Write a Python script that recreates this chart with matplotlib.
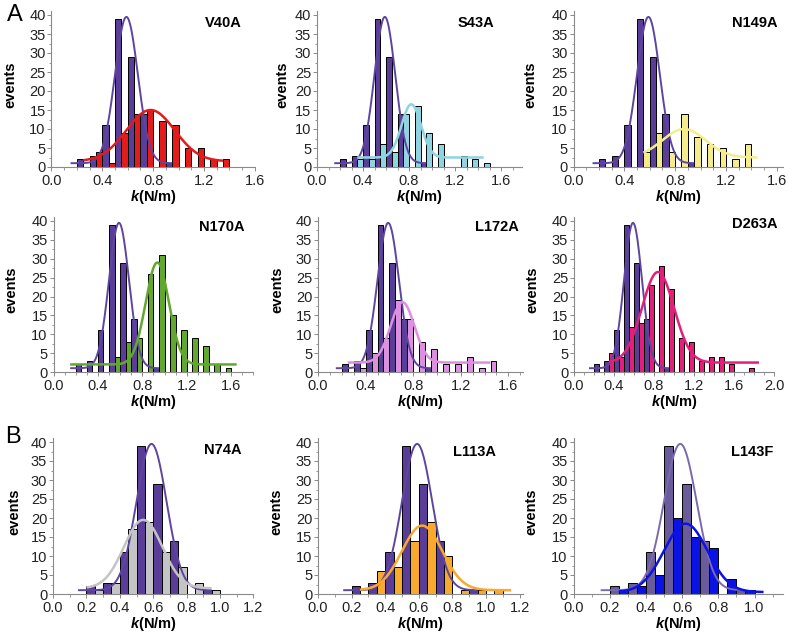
import numpy as np
import matplotlib
matplotlib.use('Agg')
import matplotlib.pyplot as plt
from matplotlib.ticker import MultipleLocator

plt.rcParams['font.family'] = ['Liberation Sans', 'DejaVu Sans']
plt.rcParams['mathtext.fontset'] = 'custom'
plt.rcParams['mathtext.rm'] = 'Liberation Sans'
plt.rcParams['mathtext.it'] = 'Liberation Sans:italic'
plt.rcParams['mathtext.bf'] = 'Liberation Sans:bold'
plt.rcParams['mathtext.bfit'] = 'Liberation Sans:italic:bold'

# ---------------- data ----------------
bin_lefts = [0.2, 0.3, 0.4, 0.5, 0.6, 0.7, 0.8, 0.9, 1.0, 1.1, 1.2, 1.3, 1.4, 1.5, 1.6, 1.7]
wt_counts = [2, 3, 11, 39, 29, 14, 0, 1, 0, 0, 0, 0, 0, 0, 0, 0]

v40a_counts = [0, 4, 1, 9, 14, 15, 12, 11, 5, 5, 2, 2, 0, 0, 0, 0]
s43a_counts = [0, 2, 2, 6, 4, 14, 16, 9, 6, 0, 3, 2, 1, 0, 0, 0]
n149a_counts = [0, 0, 0, 4, 9, 4, 14, 8, 6, 5, 2, 6, 0, 0, 0, 0]
n170a_counts = [0, 0, 0, 4, 8, 9, 26, 31, 15, 11, 9, 7, 2, 1, 0, 0]
l172a_counts = [0, 1, 5, 9, 19, 14, 8, 6, 2, 2, 4, 1, 3, 0, 0, 0]
d263a_counts = [0, 5, 4, 12, 13, 23, 28, 22, 9, 8, 3, 4, 4, 2, 0, 1]
n74a_counts = [1, 3, 17, 19, 11, 7, 3, 1, 0, 0, 0, 0, 0, 0, 0, 0]
l113a_counts = [0, 6, 7, 14, 19, 10, 1, 1, 1, 0, 0, 0, 0, 0, 0, 0]
l143f_counts = [1, 2, 5, 20, 15, 12, 4, 1, 0, 0, 0, 0, 0, 0, 0, 0]

# Gaussian fit parameters: amplitude, centre, sigma, baseline, x start, x end
wt_fit = [38.5, 0.59, 0.09, 1.0, 0.15, 0.95]
v40a_fit = [13.5, 0.78, 0.19, 1.5, 0.25, 1.35]
s43a_fit = [14.0, 0.82, 0.085, 2.5, 0.35, 1.45]
n149a_fit = [7.5, 0.87, 0.17, 2.5, 0.55, 1.45]
n170a_fit = [27.0, 0.935, 0.105, 2.0, 0.15, 1.65]
l172a_fit = [16.0, 0.71, 0.10, 2.5, 0.25, 1.45]
d263a_fit = [24.0, 0.84, 0.16, 2.5, 0.35, 1.85]
n74a_fit = [18.0, 0.54, 0.115, 1.5, 0.20, 0.95]
l113a_fit = [17.0, 0.62, 0.12, 1.0, 0.25, 1.15]
l143f_fit = [18.0, 0.62, 0.12, 0.5, 0.25, 1.05]

names = ['V40A', 'S43A', 'N149A', 'N170A', 'L172A', 'D263A', 'N74A', 'L113A', 'L143F']
mut_counts = [v40a_counts, s43a_counts, n149a_counts, n170a_counts, l172a_counts,
              d263a_counts, n74a_counts, l113a_counts, l143f_counts]
mut_fits = [v40a_fit, s43a_fit, n149a_fit, n170a_fit, l172a_fit,
            d263a_fit, n74a_fit, l113a_fit, l143f_fit]
colors = ['#e31b1b', '#8fd4e0', '#f5ec8c', '#62a82e', '#dd8fe0',
          '#e2207c', '#c4c4c4', '#f8a92e', '#0b12e6']
wt_bar_colors = ['#5a3d98'] * 8 + ['#6a5c9b']
wt_line_colors = ['#5e46a0'] * 8 + ['#7a6aae']

# ---------------- layout (pixels) ----------------
W, H = 789, 638
# (left px, px per 0.1, xmax, x major step)
cols = [
    (51.5, 12.7, 1.6, 0.4), (317, 11.5, 1.78, 0.4), (573.5, 12.7, 1.65, 0.4),
    (53.5, 11.1, 1.8, 0.4), (318, 11.9, 1.72, 0.4), (574, 10.0, 2.0, 0.4),
    (53, 16.7, 1.2, 0.2), (318, 16.8, 1.22, 0.2), (573.5, 18.1, 1.16, 0.2),
]
rows_y0 = [167, 372, 594]
unit_px = [3.8, 3.775, 3.8]
YMAX = 41
name_pos = [(223, 23), (476, 23), (755, 23),
            (222, 227), (497, 227), (755, 224),
            (223, 450), (474, 452), (752, 452)]
ylabel_off = [34, 28, 36, 35, 34, 35, 32, 35, 35]

fig = plt.figure(figsize=(W / 100, H / 100), dpi=100)
fig.patch.set_facecolor('white')

spine_c = '#8a8a8a'
for i in range(9):
    r = i // 3
    left, p01, xmax, step = cols[i]
    width_px = p01 * 10 * xmax
    y0 = rows_y0[r]
    top = y0 - YMAX * unit_px[r]
    ax = fig.add_axes([left / W, 1 - y0 / H, width_px / W, (y0 - top) / H])
    ax.set_xlim(0, xmax)
    ax.set_ylim(0, YMAX)

    wl = np.array(bin_lefts)
    ax.bar(wl, wt_counts, width=0.05, align='edge', color=wt_bar_colors[i],
           edgecolor='black', linewidth=0.7, zorder=2)
    ax.bar(wl + 0.05, mut_counts[i], width=0.05, align='edge', color=colors[i],
           edgecolor='black', linewidth=0.7, zorder=2)

    a, c, s, b, x0, x1 = wt_fit
    xs = np.linspace(x0, x1, 300)
    ax.plot(xs, b + a * np.exp(-0.5 * ((xs - c) / s) ** 2), color=wt_line_colors[i],
            lw=1.4, zorder=3, solid_capstyle='butt')
    a, c, s, b, x0, x1 = mut_fits[i]
    xs = np.linspace(x0, x1, 300)
    ax.plot(xs, b + a * np.exp(-0.5 * ((xs - c) / s) ** 2), color=colors[i],
            lw=1.8, zorder=4, solid_capstyle='butt')

    for sp in ['top', 'right']:
        ax.spines[sp].set_visible(False)
    for sp in ['left', 'bottom']:
        ax.spines[sp].set_color(spine_c)
        ax.spines[sp].set_linewidth(0.8)

    ax.xaxis.set_major_locator(MultipleLocator(step))
    ax.xaxis.set_minor_locator(MultipleLocator(0.1))
    ax.yaxis.set_major_locator(MultipleLocator(5))
    ax.yaxis.set_minor_locator(MultipleLocator(2.5))
    ax.tick_params(axis='both', which='major', length=3, width=0.7, color=spine_c,
                   labelsize=10.5, labelcolor='#222222', pad=1.2)
    ax.tick_params(axis='x', which='major', pad=2)
    ax.tick_params(axis='both', which='minor', length=1.8, width=0.6, color=spine_c)
    ax.xaxis.set_major_formatter(matplotlib.ticker.FormatStrFormatter('%.1f'))

    ax.set_ylabel('events', fontsize=10.5, fontweight='bold')
    ax.yaxis.set_label_coords(-ylabel_off[i] / width_px, 0.53)
    ax.set_xlabel(r'$\mathbfit{k}$(N/m)', fontsize=10.5, fontweight='bold', labelpad=0)

    nx, ny = name_pos[i]
    fig.text(nx / W, 1 - ny / H, names[i], fontsize=10.5, fontweight='bold',
             ha='center', va='center')

fig.text(15 / W, 1 - 15 / H, 'A', fontsize=17, ha='center', va='center')
fig.text(13 / W, 1 - 437 / H, 'B', fontsize=17, ha='center', va='center')

fig.savefig('out.png', dpi=100, facecolor='white')
